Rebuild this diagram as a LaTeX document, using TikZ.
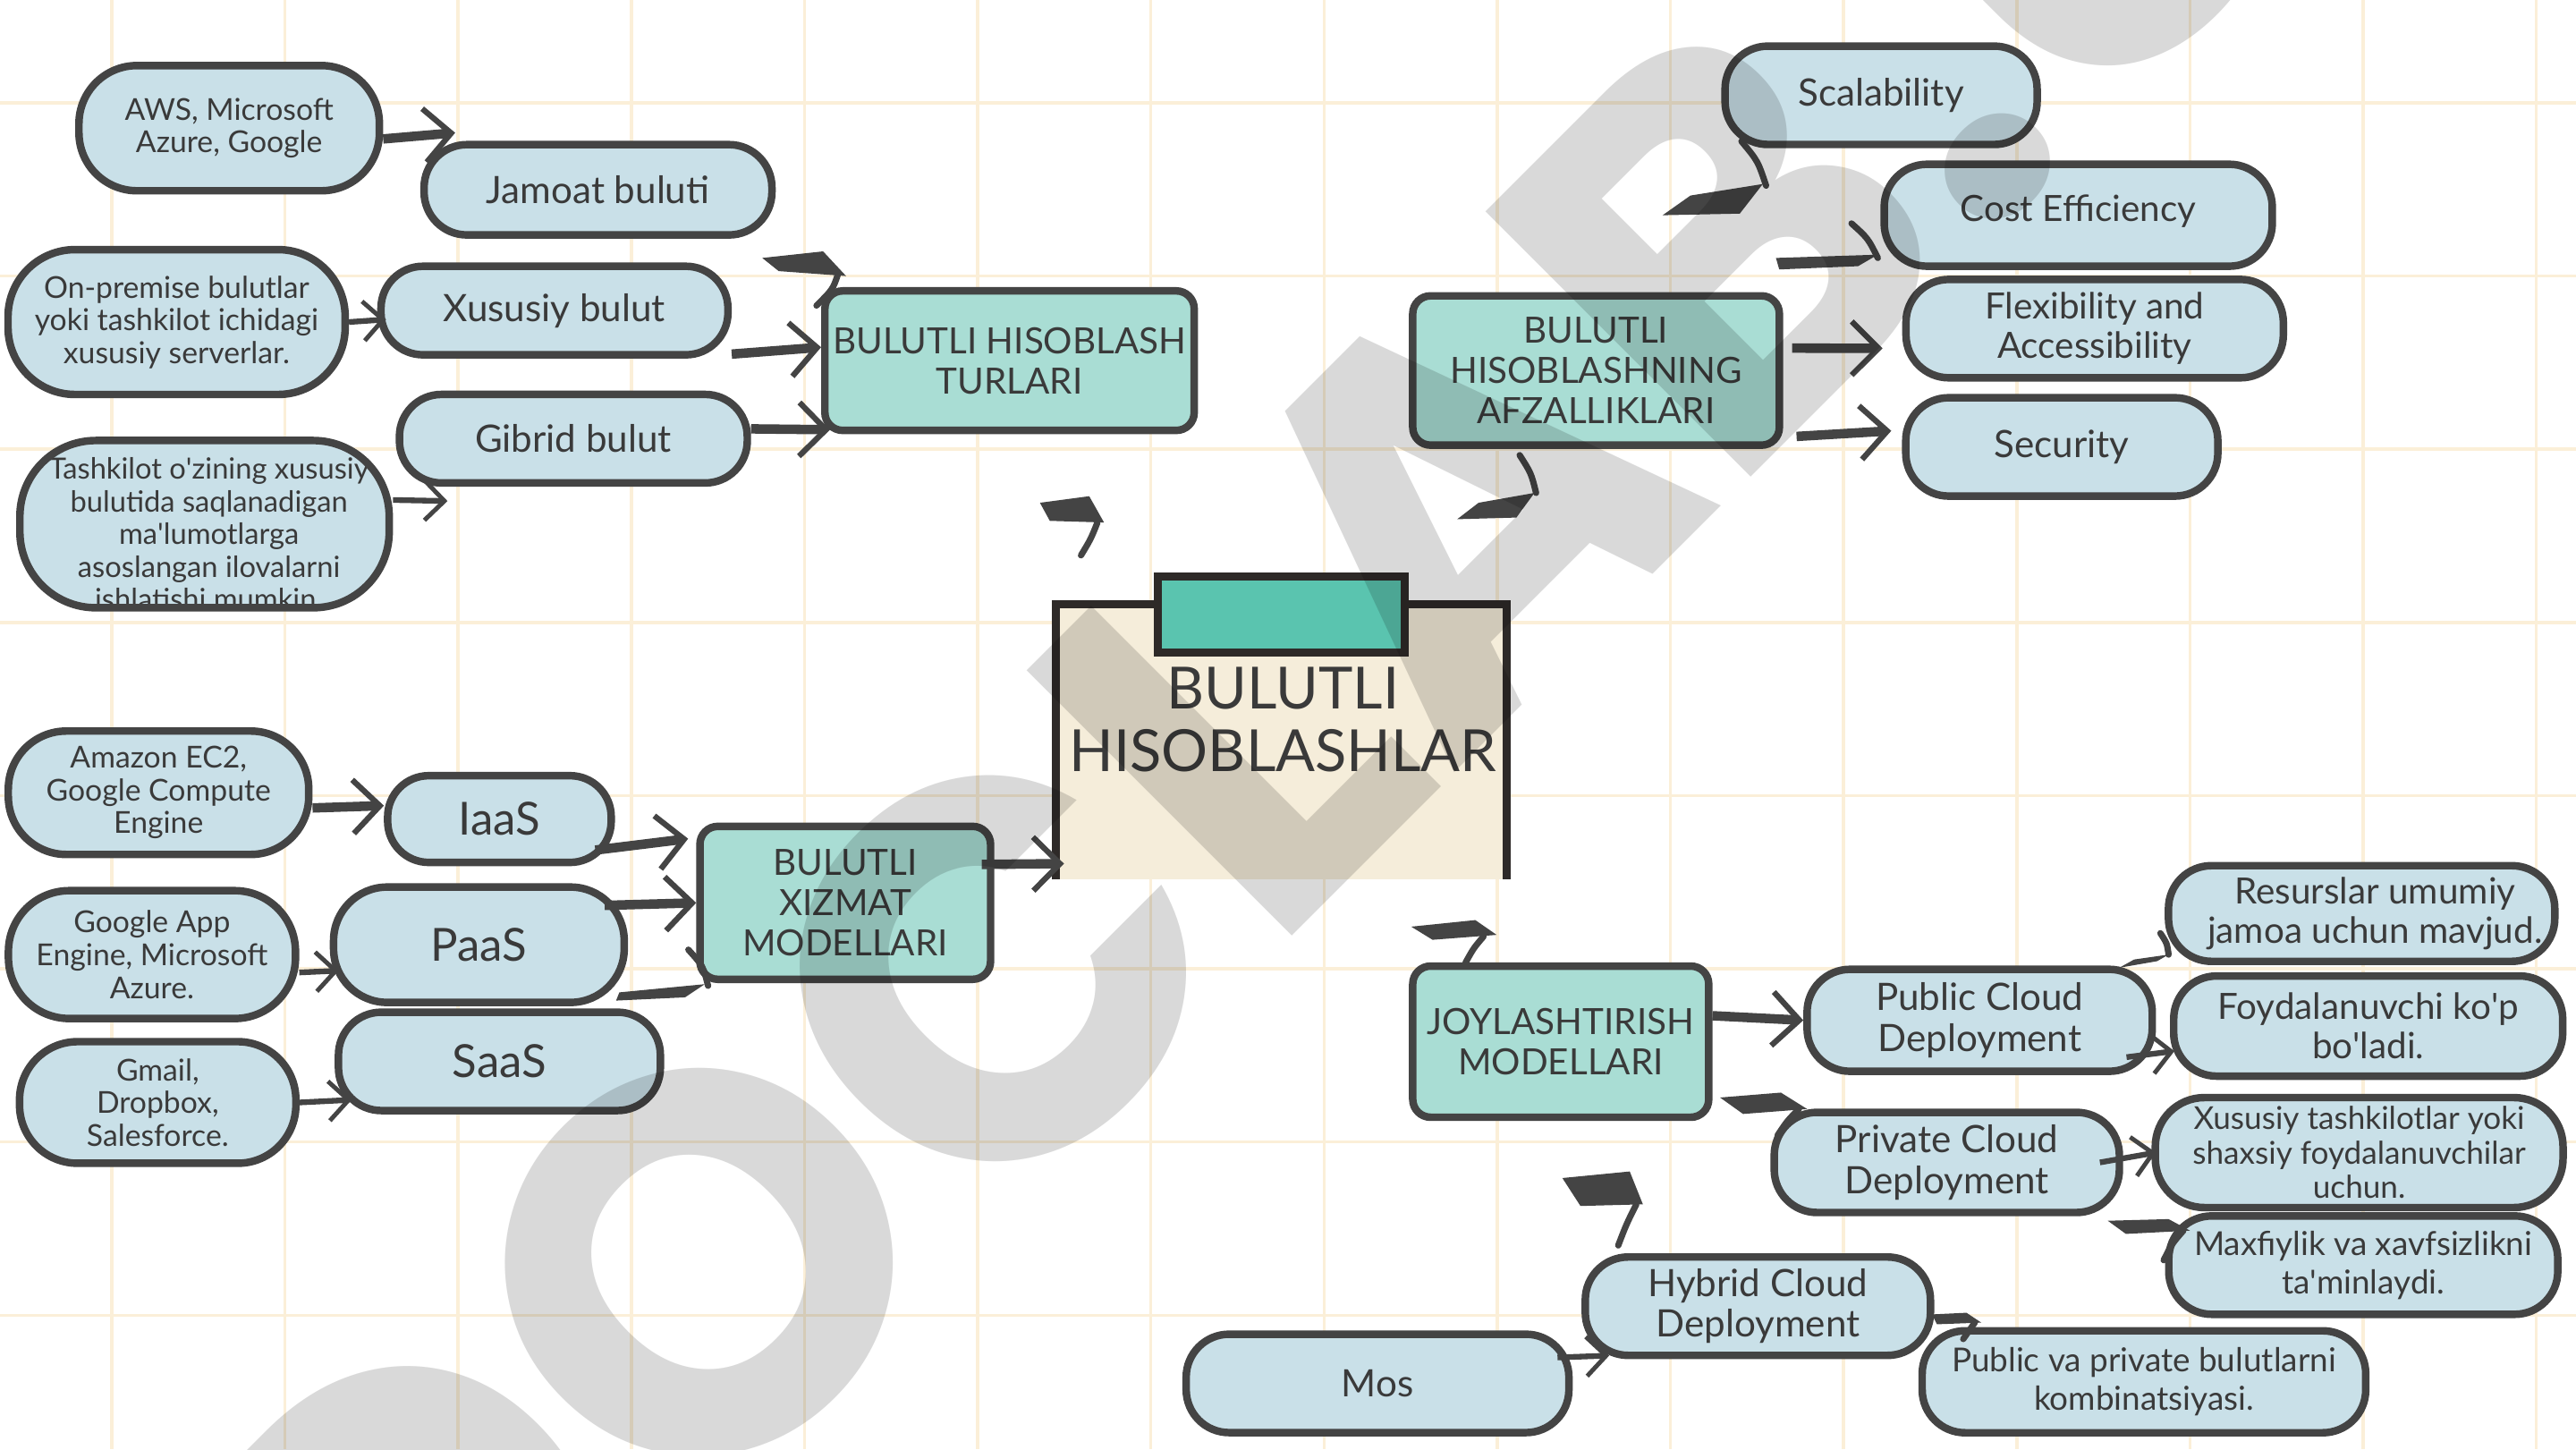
\documentclass[tikz,border=0pt]{standalone}
\usepackage{fontspec}
\setmainfont{Lato}
\newfontfamily\stampfont{Poppins}
\usetikzlibrary{arrows.meta}

\definecolor{leafblue}{HTML}{C9E0E8}
\definecolor{hubteal}{HTML}{A9DDD4}
\definecolor{paper}{HTML}{F5EDDA}
\definecolor{tabteal}{HTML}{5AC4AF}
\definecolor{ink}{HTML}{444444}
\definecolor{framec}{HTML}{2E2A28}
\definecolor{gridline}{HTML}{FBEFD8}
\definecolor{labelgray}{HTML}{3A3A3A}

\tikzset{
  leaf/.style={draw=ink, fill=leafblue, line width=2.4pt, rounded corners=0.48cm,
    align=center, text=labelgray, inner sep=1pt, font=\fontsize{12}{13}\selectfont},
  hub/.style={draw=ink, fill=hubteal, line width=2.4pt, rounded corners=0.2cm,
    align=center, text=labelgray, inner sep=1pt, font=\fontsize{11.5}{12.8}\selectfont},
  smalltext/.style={font=\fontsize{9.6}{10.4}\selectfont},
  medtext/.style={font=\fontsize{11.5}{12.5}\selectfont},
  bigtext/.style={font=\fontsize{14.5}{15}\selectfont},
  link/.style={draw=ink, line width=3pt, -{Straight Barb[length=3mm,width=6mm,line width=1.8pt]}},
  thinlink/.style={draw=ink, line width=1.8pt, -{Straight Barb[length=2.2mm,width=4.4mm,line width=1.4pt]}},
  stub/.style={fill=ink},
  stubbarb/.style={draw=ink, line width=2pt, line cap=round},
  gridc/.style={draw=gridline, line width=1pt},
  stamp/.style={rotate=45, inner sep=0pt, text=black, text opacity=0.15,
    font=\stampfont\bfseries\fontsize{170}{170}\selectfont}
}

\begin{document}
\begin{tikzpicture}[x=0.018367cm, y=-0.018367cm]
    % paper and grid
    \useasboundingbox (0,0) rectangle (1568,882);
    \fill[white] (0,0) rectangle (1568,882);
    \foreach \i in {0,...,14}
        \draw[gridc] ({68.06+105.41*\i},0) -- ({68.06+105.41*\i},882);
    \foreach \j in {0,...,7}
        \draw[gridc] (0,{62.6+105.41*\j}) -- (1568,{62.6+105.41*\j});

    % centre card
    \node[fill=paper, minimum width=5.03cm, minimum height=3.07cm] (main) at (780,451.5) {};
    \draw[framec, line width=2.6pt] (main.south west) -- (main.north west) -- (main.north east) -- (main.south east);
    \node[draw=framec, fill=tabteal, line width=2.4pt, minimum width=2.76cm, minimum height=0.85cm] (tab) at (780,374) {};
    \node[font=\fontsize{18.5}{19.8}\selectfont, text=labelgray, align=center] (title) at (781,438) {BULUTLI\\HISOBLASHLAR};

    % turlari
    \node[leaf, smalltext, minimum width=3.36cm, minimum height=1.4cm, rounded corners=0.65cm] (aws) at (139.5,78) {AWS, Microsoft\\Azure, Google};
    \node[leaf, minimum width=3.89cm, minimum height=1.01cm] (jamoat) at (364,115.5) {Jamoat buluti};
    \node[leaf, smalltext, minimum width=3.77cm, minimum height=1.62cm, rounded corners=0.75cm] (onprem) at (107.5,196) {On-premise bulutlar\\yoki tashkilot ichidagi\\xususiy serverlar.};
    \node[leaf, minimum width=3.88cm, minimum height=0.99cm, rounded corners=0.47cm] (xususiy) at (337.5,189) {Xususiy bulut};
    \node[leaf, minimum width=3.89cm, minimum height=0.99cm, rounded corners=0.47cm] (gibrid) at (349,267) {Gibrid bulut};
    \node[leaf, minimum width=4.13cm, minimum height=1.87cm, rounded corners=0.85cm,
        path picture={\node[font=\fontsize{9.3}{10.4}\selectfont, text=labelgray, align=center] (tashtext)
            at ([xshift=0.05cm,yshift=-0.11cm]path picture bounding box.center)
            {Tashkilot o\textquotesingle zining xususiy\\bulutida saqlanadigan\\ma\textquotesingle lumotlarga\\asoslangan ilovalarni\\ishlatishi mumkin.};}] (tashkilot) at (124.5,319) {};
    \node[hub, minimum width=4.13cm, minimum height=1.56cm] (turlari) at (614.5,219.5) {BULUTLI HISOBLASH\\TURLARI};

    \draw[link] (aws.-4) -- ([xshift=0.39cm,yshift=0.09cm]jamoat.north west);
    \draw[thinlink] (onprem.east) -- ([xshift=0.1cm,yshift=-0.1cm]xususiy.west);
    \draw[link] ([yshift=0.05cm]xususiy.south east) -- ([yshift=0.15cm]turlari.west);
    \draw[link] ([yshift=0.11cm]gibrid.east) -- ([xshift=0.1cm,yshift=0.05cm]turlari.south west);
    \draw[thinlink] ([yshift=0.27cm]tashkilot.east) -- ([xshift=0.58cm,yshift=-0.16cm]gibrid.south west);

    % afzalliklari
    \node[leaf, minimum width=3.49cm, minimum height=1.1cm] (scal) at (1145,58) {Scalability};
    \node[leaf, medtext, minimum width=4.34cm, minimum height=1.14cm] (cost) at (1265,131) {\raisebox{0.15cm}{Cost Efficiency}};
    \node[leaf, medtext, minimum width=4.22cm, minimum height=1.1cm] (flex) at (1275,200) {Flexibility and\\Accessibility};
    \node[leaf, minimum width=3.49cm, minimum height=1.1cm] (secur) at (1255,272) {Security};
    \node[hub, minimum width=4.1cm, minimum height=1.67cm] (afz) at (971.5,225.5) {BULUTLI\\HISOBLASHNING\\AFZALLIKLARI};

    \draw[link] ([xshift=0.1cm,yshift=0.25cm]afz.east) -- ([xshift=-0.22cm,yshift=-0.22cm]flex.west);
    \draw[link] ([xshift=0.15cm,yshift=0.14cm]afz.south east) -- ([xshift=-0.12cm,yshift=0.18cm]secur.west);

    % xizmat modellari
    \node[leaf, smalltext, minimum width=3.36cm, minimum height=1.38cm, rounded corners=0.65cm] (amazon) at (96.5,482.5) {Amazon EC2,\\Google Compute\\Engine};
    \node[leaf, bigtext, minimum width=2.5cm, minimum height=0.97cm, rounded corners=0.46cm] (iaas) at (304,498.5) {IaaS};
    \node[leaf, smalltext, minimum width=3.21cm, minimum height=1.43cm, rounded corners=0.68cm] (gapp) at (92.5,581) {Google App\\Engine, Microsoft\\Azure.};
    \node[leaf, bigtext, minimum width=3.25cm, minimum height=1.29cm, rounded corners=0.6cm] (paas) at (291.5,575) {PaaS};
    \node[leaf, smalltext, minimum width=3.09cm, minimum height=1.36cm, rounded corners=0.65cm] (gmail) at (96,671) {Gmail,\\Dropbox,\\Salesforce.};
    \node[leaf, bigtext, minimum width=3.6cm, minimum height=1.1cm] (saas) at (304,646) {SaaS};
    \node[hub, minimum width=3.25cm, minimum height=1.71cm] (xizmat) at (514.5,549.5) {BULUTLI\\XIZMAT\\MODELLARI};

    \draw[link] ([yshift=-0.17cm]amazon.east) -- ([yshift=0.15cm]iaas.west);
    \draw[thinlink] ([yshift=-0.2cm]gapp.east) -- ([xshift=0.1cm,yshift=-0.29cm]paas.west);
    \draw[thinlink] (gmail.east) -- ([xshift=0.19cm,yshift=-0.43cm]saas.west);
    \draw[link] ([xshift=-0.22cm,yshift=0.18cm]iaas.south east) -- ([xshift=-0.09cm,yshift=-0.18cm]xizmat.north west);
    \draw[link] ([xshift=-0.26cm,yshift=0.44cm]paas.east) -- (xizmat.west);
    \draw[link] ([xshift=-0.14cm,yshift=0.43cm]xizmat.east) -- ([xshift=0.09cm,yshift=0.18cm]main.south west);

    % joylashtirish modellari
    \node[hub, minimum width=3.31cm, minimum height=1.69cm] (joy) at (950,634) {JOYLASHTIRISH\\MODELLARI};
    \node[leaf, minimum width=3.86cm, minimum height=1.14cm] (public) at (1205,621) {Public Cloud\\Deployment};
    \node[leaf, medtext, minimum width=4.32cm, minimum height=1.07cm] (resurs) at (1437.5,556) {\hspace*{0.3cm}Resurslar umumiy\\\hspace*{0.3cm}jamoa uchun mavjud.};
    \node[leaf, medtext, minimum width=4.35cm, minimum height=1.12cm] (foyda) at (1441.5,624.5) {Foydalanuvchi ko\textquotesingle p\\bo\textquotesingle ladi.};
    \node[leaf, minimum width=3.86cm, minimum height=1.12cm] (private) at (1185,707.5) {Private Cloud\\Deployment};
    \node[leaf, font=\fontsize{10}{11}\selectfont, minimum width=4.56cm, minimum height=1.23cm, rounded corners=0.55cm] (xustash) at (1436,701.5) {Xususiy tashkilotlar yoki\\shaxsiy foydalanuvchilar\\uchun.};
    \node[leaf, font=\fontsize{10.5}{12.3}\selectfont, minimum width=4.35cm, minimum height=1.1cm] (maxf) at (1438.5,770) {Maxfiylik va xavfsizlikni\\ta\textquotesingle minlaydi.};
    \node[leaf, minimum width=3.86cm, minimum height=1.1cm] (hybrid) at (1070,795) {Hybrid Cloud\\Deployment};
    \node[leaf, font=\fontsize{10.5}{12.3}\selectfont, minimum width=4.96cm, minimum height=1.14cm] (pubpriv) at (1305,841) {Public va private bulutlarni\\kombinatsiyasi.};
    \node[leaf, minimum width=4.28cm, minimum height=1.1cm] (mos) at (838.5,842) {Mos};

    \draw[link] ([yshift=0.29cm]joy.east) -- (public.west);
    \draw[thinlink] ([xshift=-0.33cm,yshift=0.2cm]public.south east) -- ([xshift=0.05cm,yshift=-0.28cm]foyda.west);
    \draw[thinlink] ([xshift=-0.26cm]private.east) -- ([xshift=0.05cm]xustash.west);
    \draw[thinlink] ([xshift=-0.17cm,yshift=0.29cm]mos.east) -- ([xshift=0.31cm,yshift=0.04cm]hybrid.south west);

    % loose arrow heads
    \fill[stub] (464,157) -- (501,153) -- (515,168) -- (474,165) -- cycle;
    \draw[stubbarb] (510,167) .. controls (507,176) .. (497,186);
    \fill[stub] (633,306) -- (663,302) -- (672,318) -- (639,317) -- cycle;
    \draw[stubbarb] (668,318) .. controls (664,328) .. (658,338);
    \fill[stub] (859,564) -- (898,560) -- (911,569) -- (872,572) -- cycle;
    \draw[stubbarb] (903,570) .. controls (897,577) .. (892,586);
    \fill[stub] (1047,668) -- (1084,665) -- (1100,675) -- (1061,678) -- cycle;
    \draw[stubbarb] (1095,675) .. controls (1088,682) .. (1082,691);
    \fill[stub] (951,717) -- (992,713) -- (1000,733) -- (962,734) -- cycle;
    \draw[stubbarb] (996,733) .. controls (990,745) .. (985,758);
    \fill[stub] (1283,743) -- (1320,742) -- (1333,749) -- (1294,751) -- cycle;
    \draw[stubbarb] (1329,749) .. controls (1322,757) .. (1317,767);
    \fill[stub] (1176,800) -- (1197,799) -- (1206,805) -- (1179,806) -- cycle;
    \draw[stubbarb] (1202,805) .. controls (1198,810) .. (1195,815);
    \draw[stubbarb] (1060,86) .. controls (1070,98) .. (1075,113);
    \fill[stub] (1073,112) -- (1059,130) -- (1012,131) -- (1029,119) -- cycle;
    \draw[stubbarb] (1127,136) .. controls (1137,145) .. (1143,157);
    \fill[stub] (1143,155) -- (1131,162) -- (1083,164) -- (1081,157) -- cycle;
    \draw[stubbarb] (925,277) .. controls (932,288) .. (935,300);
    \fill[stub] (934,300) -- (923,315) -- (887,316) -- (900,306) -- cycle;
    \draw[stubbarb] (1315,568) .. controls (1319,574) .. (1320,581);
    \fill[stub] (1320,581) -- (1313,585) -- (1290,589) -- (1299,584) -- cycle;
    \draw[stubbarb] (419,578) .. controls (428,588) .. (431,600);
    \fill[stub] (429,599) -- (417,607) -- (375,609) -- (377,604) -- cycle;

    % watermark
    \node[stamp] (doclab) at (827,367) {DOCLAB.UZ};
\end{tikzpicture}
\end{document}
